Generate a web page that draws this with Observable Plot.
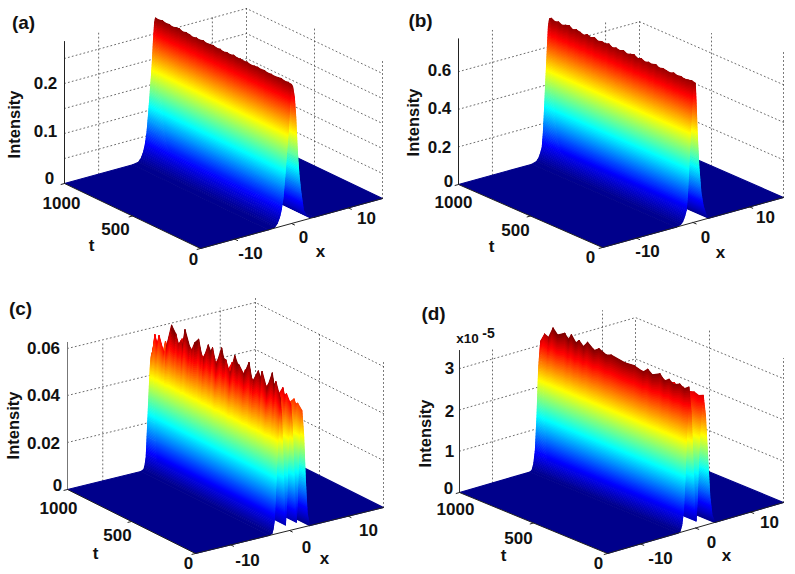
<!DOCTYPE html>
<html><head><meta charset="utf-8">
<style>html,body{margin:0;padding:0;background:#fff}svg{display:block}</style>
<script src="https://cdn.jsdelivr.net/npm/d3@7"></script>
<script src="https://cdn.jsdelivr.net/npm/@observablehq/plot@0.6"></script>
</head><body><div id="chart"></div>
<script>
// ---- data ----
const ridgeTimes=[1000,975,950,925,900,875,850,825,800,775,750,725,700,675,650,625,600,575,550,525,500,475,450,425,400,375,350,325,300,275,250,225,200,175,150,125,100,75,50,25,0];
const crestA=[.281,.280,.282,.280,.281,.279,.281,.282,.279,.281,.280,.278,.280,.279,.281,.279,.280,.281,.279,.280,.278,.280,.279,.281,.279,.280,.279,.280,.278,.279,.280,.279,.280,.278,.279,.278,.279,.280,.278,.279,.278];
const crestB=[.748,.738,.745,.735,.744,.75,.737,.745,.74,.733,.744,.737,.746,.734,.742,.738,.745,.733,.74,.736,.744,.734,.74,.746,.735,.742,.733,.74,.737,.745,.734,.74,.737,.733,.742,.736,.74,.734,.738,.742,.737];
const timesC=[1000,993,978,961,946,907,885,848,815,793,776,761,743,707,689,667,637,615,598,561,543,528,500,457,441,424,391,354,333,320,283,243,224,211,170,152,141,104,61,48,33,0];
const crestC=[.049,.0505,.0577,.0537,.0582,.0512,.0555,.0652,.0624,.0585,.0605,.0588,.0662,.0599,.0590,.0626,.0650,.0593,.0578,.0646,.0624,.0643,.0574,.0662,.0622,.0620,.0567,.0657,.0629,.0626,.0595,.0658,.0600,.0590,.0642,.0617,.0648,.0583,.0663,.0615,.0634,.0574];
const timesD=[1000,975,948,918,887,839,814,794,763,742,711,685,639,608,557,526,433,371,309,278,247,196,165,134,103,62,31,0];
const crestD=[3.10,3.30,3.26,3.53,3.41,3.52,3.40,3.55,3.40,3.49,3.38,3.53,3.40,3.49,3.41,3.46,3.41,3.43,3.37,3.48,3.39,3.49,3.36,3.45,3.36,3.44,3.37,3.46];
const profileXA=[-16,-4,-3,-2.5,-2.1,-1.8,-1.5,-1.2,-.9,-.6,-.35,-.15,0,.2,.5,.75,1,1.3,1.6,2.1,2.6,3.2,4,16];
const profileA=[0,0,.006,.03,.07,.12,.2,.34,.5,.66,.85,.97,1,.98,.9,.75,.52,.34,.22,.07,.03,.008,0,0];
const profileXB=[-16,-3,-2.2,-1.8,-1.5,-1.2,-1,-.8,-.55,-.3,-.1,.1,.4,.55,.75,1.03,1.4,1.8,2.3,2.8,16];
const profileB=[0,0,.01,.03,.06,.1,.2,.36,.58,.79,.95,1,1,.85,.62,.39,.2,.1,.03,0,0];
const profileXC=[-16,-3.5,-3,-2.8,-2.6,-2.4,-2.1,-1.85,-1.6,-1.35,-1.05,-.85,-.7,-.5,-.25,0,.2,.45,.75,1,1.15,1.3,1.55,1.85,2.1,2.4,2.7,3,3.4,16];
const profileC=[0,0,.01,.04,.1,.3,.6,.85,1,.88,.5,.2,.05,.2,.6,.85,.94,.8,.45,.15,.05,.2,.55,.82,.88,.7,.35,.1,0,0];
const profileXD=[-16,-3.2,-2.8,-2.5,-2.2,-1.9,-1.6,-1.2,-.8,-.4,-.1,.1,.3,.6,1,1.4,1.8,2.2,2.6,3,3.5,16];
const profileD=[0,0,.01,.05,.15,.4,.75,1,.85,.45,.12,.05,.2,.55,.85,.93,.8,.5,.2,.06,0,0];
const tickXT=[["-10",-10],["0",0],["10",10]];
const jetStops=[0,.125,.375,.625,.875,1];
const jetColors=["#00008b","#0000ff","#00ffff","#ffff00","#ff0000","#800000"];
// ---- view of each panel: projection of (x,t,Intensity) on the page ----
const views=[
 {name:"a",base:[200,248],xv:[182,-50],tv:[-136,-65],k:500,zmax:.284,lvl:.279,times:ridgeTimes,crest:crestA,px:profileXA,p:profileA,
  zTicks:[.05,.1,.15,.2,.25],tops:[.284,.25,.25,.276,.276],zTop:.284,axisColor:"#222"},
 {name:"b",base:[602,247],xv:[181,-50],tv:[-144,-63],k:188,zmax:.76,lvl:.74,times:ridgeTimes,crest:crestB,px:profileXB,p:profileB,
  zTicks:[.2,.4,.6],tops:[.77,.654,.6,.705,.78],zTop:.775,axisColor:"#222"},
 {name:"c",base:[195,553],xv:[188,-46],tv:[-128,-64],k:2350,zmax:.0626,lvl:.056,times:timesC,crest:crestC,px:profileXC,p:profileC,
  zTicks:[.02,.04,.06],tops:[.0588,.0613,.062,.0604,.0626],zTop:.0626,axisColor:"#777"},
 {name:"d",base:[607,553],xv:[176,-51],tv:[-148,-61],k:41.3,zmax:3.44,lvl:3.3,times:timesD,crest:crestD,px:profileXD,p:profileD,
  zTicks:[1,2,3],tops:[3.27,3.4,3,3.43,3.49],zTop:3.44,axisColor:"#333"}
];
// annotation texts and where they sit on the page
const panelLabels=[["(a)",23,22],["(b)",420,20],["(c)",20,308],["(d)",433,313]];
const labels=[
 ["0.2",45,83],["0.1",45,131],["0",49,178],["1000",61,203],["500",115,229],["t",91,245],["0",193,259],["-10",250,253],["0",303,237],["x",320,251],["10",366,218],
 ["0.6",439,70],["0.4",439,108],["0.2",439,147],["0",448,181],["1000",453,202],["500",515,230],["t",491,246],["0",590,257],["-10",647,251],["0",705,237],["x",720,252],["10",765,217],
 ["0.06",43,348],["0.04",43,395],["0.02",43,443],["0",57,485],["1000",58,508],["500",117,535],["t",95,553],["0",188,563],["-10",247,560],["0",306,547],["x",324,558],["10",368,530],
 ["3",449,368],["2",449,411],["1",449,451],["0",448,488],["1000",455,509],["500",518,538],["t",503,555],["0",598,563],["-10",660,558],["0",711,542],["x",726,555],["10",769,522]
];
const yLabels=[["Intensity",14,124],["Intensity",413,122],["Intensity",13,425],["Intensity",425,433]];
const smallLabels=[["x10",467,338,13.5],["-5",488,333,14]];

// ---- geometry ----
function project(v,x,t,z){
  const f=(x+16)/32,g=t/1000;
  return [v.base[0]+v.xv[0]*f+v.tv[0]*g, v.base[1]+v.xv[1]*f+v.tv[1]*g-v.k*z];
}
const faces=[],grid=[],axes=[];
let uid=0;
function pushPoly(list,v,pts,extra){
  const id=uid++;
  for(const [x,t,z] of pts){const [px,py]=project(v,x,t,z);list.push({id,px,py,...extra});}
}
for(const v of views){
  for(const z of v.zTicks) pushPoly(grid,v,[[-16,1000,z],[16,1000,z],[16,0,z]]);
  const verts=[[-10,1000],[10,1000],[16,1000],[16,500],[16,0]];
  verts.forEach(([x,t],i)=>pushPoly(grid,v,[[x,t,0],[x,t,v.tops[i]]]));
  const cells=[];
  for(let i=0;i<v.px.length-1;i++){
    const n=Math.max(1,Math.ceil(Math.abs(v.p[i+1]-v.p[i])*90));
    for(let j=0;j<n;j++){
      const a=j/n,b=(j+1)/n;
      cells.push([v.px[i]+(v.px[i+1]-v.px[i])*a,v.p[i]+(v.p[i+1]-v.p[i])*a,v.px[i]+(v.px[i+1]-v.px[i])*b,v.p[i]+(v.p[i+1]-v.p[i])*b]);
    }
  }
  const surf=(P,c)=>v.lvl*P+(c-v.lvl)*Math.pow(P,8);
  for(let i=cells.length-1;i>=0;i--){
    const [x0,P0,x1,P1]=cells[i];
    if(Math.max(P0,P1)<.5){
      const z0=v.lvl*P0,z1=v.lvl*P1;
      pushPoly(faces,v,[[x0,1000,z0],[x1,1000,z1],[x1,0,z1],[x0,0,z0]],{c:(z0+z1)/2/v.zmax});
    } else {
      for(let j=0;j<v.times.length-1;j++){
        const t0=v.times[j],t1=v.times[j+1],c0=v.crest[j],c1=v.crest[j+1];
        const a=surf(P0,c0),b=surf(P1,c0),d=surf(P1,c1),e=surf(P0,c1);
        pushPoly(faces,v,[[x0,t0,a],[x1,t0,b],[x1,t1,d],[x0,t1,e]],{c:(a+b+d+e)/4/v.zmax});
      }
    }
  }
  pushPoly(axes,v,[[-16,1000,0],[-16,1000,v.zTop]],{col:v.axisColor});
  pushPoly(axes,v,[[-16,1000,0],[-16,0,0]],{col:"#222"});
  pushPoly(axes,v,[[-16,0,0],[16,0,0]],{col:"#222"});
  for(const [,x] of tickXT) pushPoly(axes,v,[[x,0,0],[x,-22,0]],{col:"#222"});
  for(const t of [500,0,1000]) pushPoly(axes,v,[[-16,t,0],[-16.6,t,0]],{col:"#222"});
}
const font='"Liberation Sans",Arial,sans-serif';
const plot=Plot.plot({
  width:795,height:574,margin:0,
  x:{domain:[0,795],range:[0,795],axis:null},
  y:{domain:[0,574],range:[0,574],axis:null},
  color:{type:"linear",domain:jetStops,range:jetColors,clamp:true,legend:false},
  marks:[
    Plot.line(grid,{x:"px",y:"py",z:"id",stroke:"#333",strokeOpacity:.8,strokeWidth:.9,strokeDasharray:"1,3",curve:"linear"}),
    Plot.line(faces,{x:"px",y:"py",z:"id",fill:"c",stroke:"c",strokeWidth:1.1,curve:"linear"}),
    Plot.line(axes,{x:"px",y:"py",z:"id",stroke:d=>d.col,strokeWidth:1,curve:"linear"}),
    Plot.text(labels,{x:d=>d[1],y:d=>d[2],text:d=>d[0],fontFamily:font,fontWeight:"bold",fontSize:17,fill:"#111",textAnchor:"middle",lineAnchor:"middle"}),
    Plot.text(panelLabels,{x:d=>d[1],y:d=>d[2],text:d=>d[0],fontFamily:font,fontWeight:"bold",fontSize:19,fill:"#111",textAnchor:"middle",lineAnchor:"middle"}),
    Plot.text(yLabels,{x:d=>d[1],y:d=>d[2],text:d=>d[0],fontFamily:font,fontWeight:"bold",fontSize:16.5,fill:"#111",rotate:-90,textAnchor:"middle",lineAnchor:"middle"}),
    Plot.text(smallLabels,{x:d=>d[1],y:d=>d[2],text:d=>d[0],fontSize:d=>d[3],fontFamily:font,fontWeight:"bold",fill:"#111",textAnchor:"middle",lineAnchor:"middle"})
  ]
});
document.getElementById("chart").append(plot);
</script></body></html>
